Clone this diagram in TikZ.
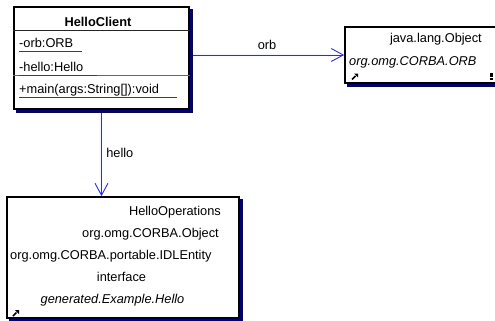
\documentclass[tikz,border=0pt]{standalone}
\usepackage{fontspec}
\setmainfont{Liberation Sans}
\usetikzlibrary{positioning, calc, arrows.meta}

\definecolor{navyshadow}{RGB}{0,0,128}
\definecolor{linkblue}{RGB}{40,40,255}

\tikzset{
  classbox/.style={draw=black, line width=1.6pt, fill=white, inner sep=0pt,
    preaction={draw=navyshadow, fill=navyshadow, transform canvas={xshift=3pt, yshift=-3pt}}},
  member/.style={anchor=base west, inner sep=0pt},
  entry/.style={inner sep=0pt},
  underln/.style={line width=1pt, black!75},
  link/.style={draw=linkblue, line width=0.9pt, shorten <=3pt,
    -{Straight Barb[length=12pt, width=13pt]}}
}

\begin{document}
\begin{tikzpicture}[x=1pt, y=-1pt, font=\fontsize{12.8}{15}\selectfont]

% Manually size the picture
\useasboundingbox (0, 0) rectangle (495, 321);
\clip (0, 0) rectangle (495, 321);

% HelloClient class
\node[classbox, minimum width=175pt, minimum height=102pt] (client) at (101.5, 58) {};
\node[entry, anchor=base, font=\fontsize{12.8}{15}\selectfont\bfseries] (clientname) at (98, 27) {HelloClient};
\draw[line width=1pt, black!85] ($(client.north west)+(0, 24.5)$) -- ($(client.north east)+(0, 24.5)$);
\draw[line width=1.2pt, black!60] ($(client.north west)+(0, 69)$) -- ($(client.north east)+(0, 69)$);

% Attributes and operation
\node[member] (orbattr) at (19, 48) {-orb:ORB};
\draw[underln] ([yshift=-4pt]orbattr.base west) -- ++(63, 0);
\node[member] (helloattr) at (19, 71) {-hello:Hello};
\draw[underln] ([yshift=-4pt]helloattr.base west) -- ++(78, 0);
\node[member] (mainop) at (19, 93) {+main(args:String[]):void};
\draw[underln] ([yshift=-4pt]mainop.base west) -- ++(158, 0);

% ORB class
\node[classbox, minimum width=153pt, minimum height=56pt] (orb) at (421.5, 55) {};
\node[entry, anchor=base east] (orbsuper) at (482, 43) {java.lang.Object};
\node[entry, anchor=base west, font=\fontsize{12.8}{15}\selectfont\itshape] (orbname) at (349, 66) {org.omg.CORBA.ORB};

% HelloOperations class
\node[classbox, minimum width=232pt, minimum height=121pt] (ops) at (123, 257.5) {};
\node[entry, anchor=base east] (opsname) at (221, 215) {HelloOperations};
\node[entry, anchor=base east] (opsobject) at (219, 237) {org.omg.CORBA.Object};
\node[entry, anchor=base west] (opsentity) at (10, 259) {org.omg.CORBA.portable.IDLEntity};
\node[entry, anchor=base] (opskind) at (121.5, 281) {interface};
\node[entry, anchor=base, font=\fontsize{12.8}{15}\selectfont\itshape] (opsgen) at (112.5, 303) {generated.Example.Hello};

% Corner icons
\draw[line width=1.6pt] (352, 79.5) -- (355.5, 76);
\fill (354, 73.5) -- (358, 73.5) -- (358, 77.5) -- cycle;
\fill (490, 73) rectangle (493, 76.5);
\fill (490, 77.5) rectangle (493, 79.5);
\draw[line width=1.6pt] (13, 316) -- (16.5, 312.5);
\fill (15, 310) -- (19, 310) -- (19, 314) -- cycle;

% Associations
\draw[link] (client.east |- orb.west) -- node[above, yshift=2pt] (orblabel) {orb} (orb.west);
\draw[link] (client.south) -- node[right, xshift=1pt] (hellolabel) {hello} (client.south |- ops.north);

\end{tikzpicture}
\end{document}
